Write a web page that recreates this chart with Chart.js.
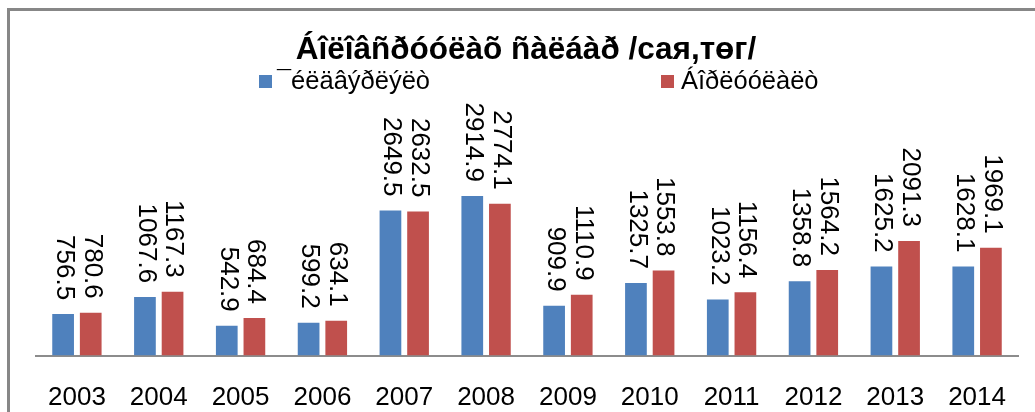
<!DOCTYPE html>
<html>
<head>
<meta charset="utf-8">
<script src="https://cdn.jsdelivr.net/npm/chart.js@4/dist/chart.umd.min.js"></script>
<style>
  html, body { margin: 0; padding: 0; background: #fff; }
  #wrap { width: 1035px; height: 412px; }
</style>
</head>
<body>
<div id="wrap"><canvas id="chart"></canvas></div>
<script>
const years = ["2003", "2004", "2005", "2006", "2007", "2008", "2009", "2010", "2011", "2012", "2013", "2014"];
const production = [756.5, 1067.6, 542.9, 599.2, 2649.5, 2914.9, 909.9, 1325.7, 1023.2, 1358.8, 1625.2, 1628.1];
const sales = [780.6, 1167.3, 684.4, 634.1, 2632.5, 2774.1, 1110.9, 1553.8, 1156.4, 1564.2, 2091.3, 1969.1];
const seriesNames = ["\u00AF\u00E9\u00EB\u00E4\u00E2\u00FD\u00F0\u00EB\u00FD\u00EB\u00F2", "\u00C1\u00EE\u00F0\u00EB\u00F3\u00F3\u00EB\u00E0\u00EB\u00F2"];
const chartTitle = "\u00C1\u00EE\u00EB\u00EE\u00E2\u00F1\u00F0\u00F3\u00F3\u00EB\u00E0\u00F5 \u00F1\u00E0\u00EB\u00E1\u00E0\u00F0 /сая,төг/";

const FONT = "'Liberation Sans', Arial, sans-serif";

// frame, title, legend, x labels and value labels
const decor = {
  id: 'decor',
  beforeDraw(chart) {
    const ctx = chart.ctx;
    ctx.save();
    ctx.fillStyle = '#fff';
    ctx.fillRect(0, 0, chart.width, chart.height);
    ctx.strokeStyle = '#878787';
    ctx.lineWidth = 3;
    ctx.beginPath();
    ctx.moveTo(8.5, chart.height);
    ctx.lineTo(8.5, 9.5);
    ctx.lineTo(chart.width, 9.5);
    ctx.stroke();
    ctx.restore();
  },
  afterDraw(chart) {
    const ctx = chart.ctx;
    ctx.save();
    ctx.fillStyle = '#000';

    // title
    ctx.font = "bold 31.5px " + FONT;
    ctx.textAlign = 'center';
    ctx.textBaseline = 'alphabetic';
    ctx.fillText(chartTitle, 526, 59);

    // legend
    ctx.font = "25.5px " + FONT;
    ctx.textAlign = 'left';
    const legendX = [259, 661];
    const textGap = [18, 20];
    chart.data.datasets.forEach((ds, i) => {
      ctx.fillStyle = ds.backgroundColor;
      ctx.fillRect(legendX[i], 75, 13, 13);
      ctx.fillStyle = '#000';
      ctx.fillText(seriesNames[i], legendX[i] + textGap[i], 89);
    });

    // x labels
    const xs = chart.scales.x;
    ctx.font = "26px " + FONT;
    ctx.textAlign = 'center';
    years.forEach((y, i) => {
      ctx.fillText(y, xs.getPixelForValue(i), 405);
    });

    // value labels, rotated
    ctx.textAlign = 'right';
    ctx.textBaseline = 'middle';
    chart.data.datasets.forEach((ds, i) => {
      chart.getDatasetMeta(i).data.forEach((bar, j) => {
        ctx.save();
        ctx.translate(bar.x + 1, bar.y - 14);
        ctx.rotate(Math.PI / 2);
        ctx.fillText(ds.data[j].toFixed(1), 0, 0);
        ctx.restore();
      });
    });
    ctx.restore();
  }
};

new Chart(document.getElementById('chart'), {
  type: 'bar',
  data: {
    labels: years,
    datasets: [
      { label: seriesNames[0], data: production, backgroundColor: '#4F81BD' },
      { label: seriesNames[1], data: sales, backgroundColor: '#C0504D' }
    ]
  },
  options: {
    responsive: true,
    maintainAspectRatio: false,
    animation: false,
    categoryPercentage: 0.675,
    barPercentage: 0.786,
    layout: { padding: { left: 36, right: 17, top: 164, bottom: 48.5 } },
    plugins: {
      legend: { display: false },
      title: { display: false },
      tooltip: { enabled: false }
    },
    scales: {
      x: {
        grid: { display: false },
        border: { display: true, color: '#8c8c8c', width: 2 },
        ticks: { display: false }
      },
      y: {
        display: false,
        min: 0,
        max: 3500
      }
    }
  },
  plugins: [decor]
});
</script>
</body>
</html>
